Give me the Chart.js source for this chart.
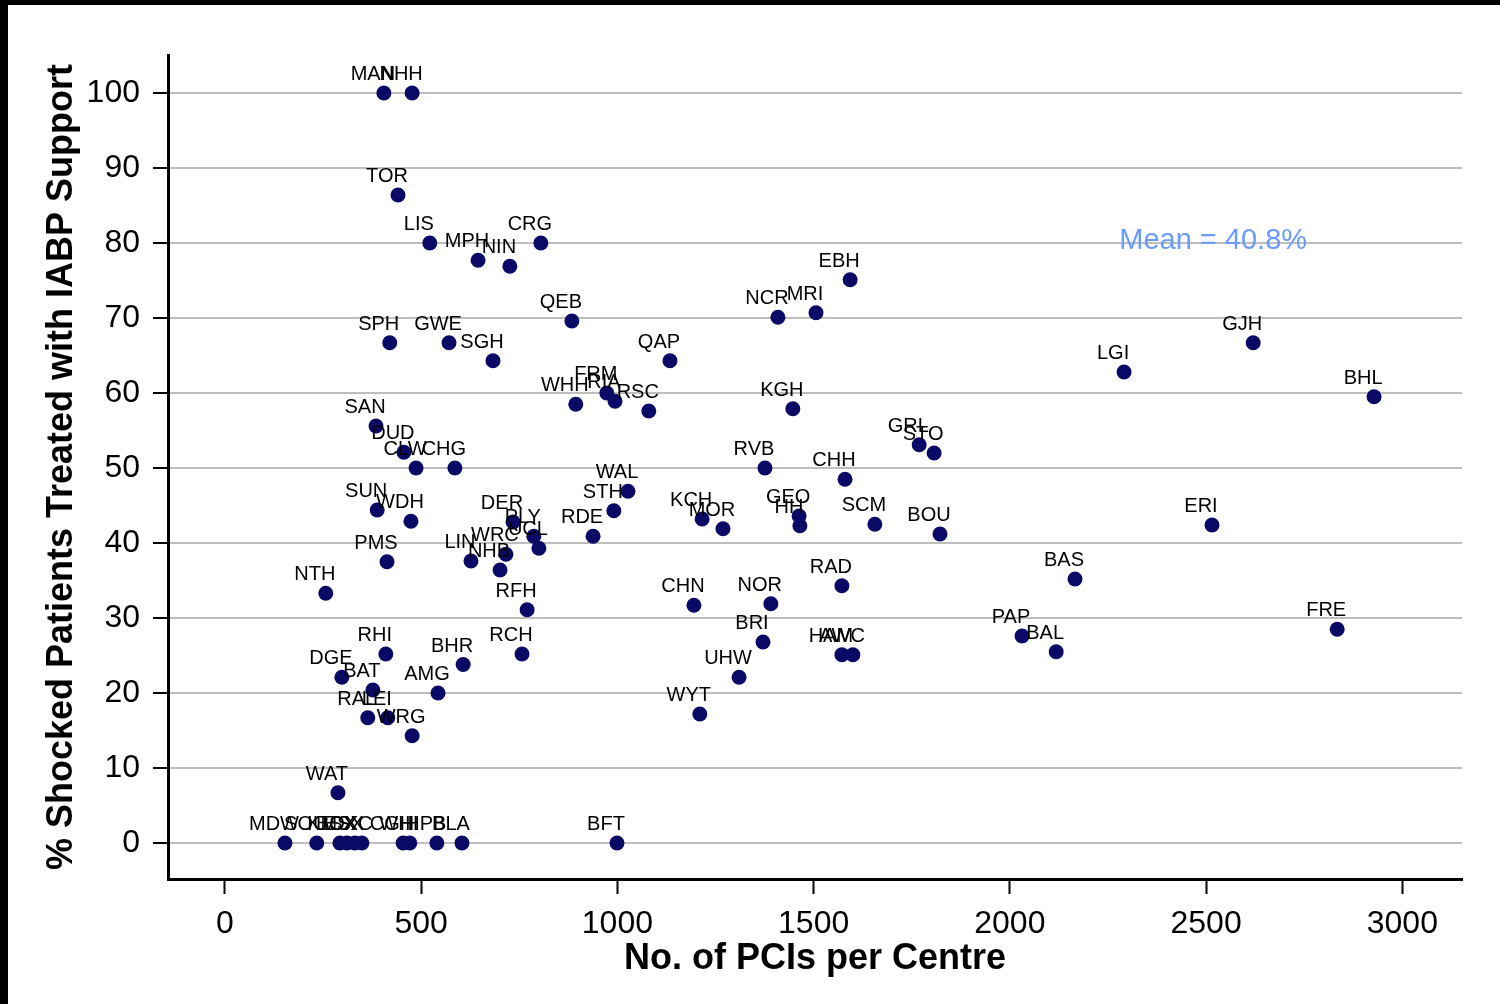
<!DOCTYPE html>
<html>
<head>
<meta charset="utf-8">
<title>IABP support vs PCI volume</title>
<script src="https://cdn.jsdelivr.net/npm/chart.js@4.4.1/dist/chart.umd.min.js"></script>
<style>
    html, body { margin: 0; padding: 0; background: #000; }
    #wrap { position: absolute; left: 8px; top: 5px; width: 1492px; height: 999px; background: #fff; }
</style>
</head>
<body>
<div id="wrap"><canvas id="iabpChart"></canvas></div>
<script>
// centre codes, PCI counts and % shocked patients with IABP support
const centres = ['MAN', 'NHH', 'TOR', 'LIS', 'MPH', 'NIN', 'CRG', 'QEB', 'EBH', 'NCR', 'MRI',
    'SPH', 'GWE', 'SGH', 'QAP', 'GJH', 'LGI', 'BHL', 'WHH', 'FRM', 'RIA', 'RSC', 'KGH',
    'SAN', 'DUD', 'CLW', 'CHG', 'GRL', 'STO', 'RVB', 'CHH', 'WAL', 'STH', 'SUN', 'WDH',
    'DER', 'PLY', 'UCL', 'WRC', 'NHB', 'LIN', 'PMS', 'RDE', 'NTH', 'RFH', 'KCH', 'MOR',
    'GEO', 'HH', 'SCM', 'BOU', 'ERI', 'BAS', 'CHN', 'NOR', 'RAD', 'BRI', 'HAM', 'AWC',
    'UHW', 'WYT', 'PAP', 'BAL', 'FRE', 'RCH', 'RHI', 'BHR', 'DGE', 'BAT', 'AMG', 'RAL',
    'LEI', 'WRG', 'WAT', 'MDW', 'SOU', 'KMS', 'BSX', 'ESX', 'OXC', 'CGH', 'WHI', 'HPB',
    'BLA', 'BFT'];

const pcis = [405, 477, 441, 522, 645, 726, 805, 884, 1593, 1409, 1506,
    420, 571, 683, 1134, 2620, 2291, 2928, 894, 973, 994, 1080, 1447,
    385, 456, 487, 586, 1769, 1807, 1376, 1580, 1027, 991, 388, 474,
    734, 787, 800, 716, 701, 627, 413, 938, 257, 770, 1216, 1269,
    1463, 1465, 1656, 1822, 2515, 2166, 1195, 1391, 1572, 1371, 1572, 1600,
    1310, 1210, 2031, 2118, 2834, 757, 410, 607, 298, 377, 543, 364,
    415, 477, 288, 153, 234, 293, 311, 331, 349, 454, 471, 540,
    604, 999];

const iabpPct = [100, 100, 86.4, 80, 77.7, 76.9, 80, 69.6, 75.1, 70.1, 70.7,
    66.7, 66.7, 64.3, 64.3, 66.7, 62.8, 59.5, 58.5, 60, 58.9, 57.6, 57.9,
    55.6, 52.1, 50, 50, 53.1, 52, 50, 48.5, 46.9, 44.3, 44.4, 42.9,
    42.8, 40.9, 39.3, 38.5, 36.4, 37.6, 37.5, 40.9, 33.3, 31.1, 43.2, 41.9,
    43.6, 42.3, 42.5, 41.2, 42.4, 35.2, 31.7, 31.9, 34.3, 26.8, 25.1, 25.1,
    22.1, 17.2, 27.6, 25.5, 28.5, 25.2, 25.2, 23.8, 22.1, 20.4, 20, 16.7,
    16.7, 14.3, 6.7, 0, 0, 0, 0, 0, 0, 0, 0, 0,
    0, 0];

const xTicks = [0, 500, 1000, 1500, 2000, 2500, 3000];
const yTicks = [0, 10, 20, 30, 40, 50, 60, 70, 80, 90, 100];

const meanText = 'Mean = 40.8%';
const meanAt = { x: 2518, y: 80.3 };

Chart.defaults.font.family = '"Liberation Sans", Arial, sans-serif';
Chart.defaults.color = '#000';

// centre codes above each dot + the mean note
const pointLabels = {
    id: 'pointLabels',
    afterDatasetsDraw(chart) {
        const ctx = chart.ctx;
        const meta = chart.getDatasetMeta(0);
        ctx.save();
        ctx.font = '20px "Liberation Sans", Arial, sans-serif';
        ctx.fillStyle = '#000';
        ctx.textAlign = 'center';
        ctx.textBaseline = 'alphabetic';
        meta.data.forEach((pt, i) => {
            ctx.fillText(centres[i], pt.x - 11, pt.y - 13);
        });

        ctx.font = '29px "Liberation Sans", Arial, sans-serif';
        ctx.fillStyle = '#6a9cff';
        ctx.textBaseline = 'middle';
        ctx.fillText(meanText, chart.scales.x.getPixelForValue(meanAt.x), chart.scales.y.getPixelForValue(meanAt.y));
        ctx.restore();
    }
};

const ctx = document.getElementById('iabpChart').getContext('2d');
const iabpChart = new Chart(ctx, {
    type: 'scatter',
    data: {
        datasets: [{
            data: pcis.map((v, i) => ({ x: v, y: iabpPct[i] })),
            backgroundColor: '#0a0a66',
            borderWidth: 0,
            pointRadius: 7.5,
            pointHoverRadius: 7.5
        }]
    },
    options: {
        responsive: true,
        maintainAspectRatio: false,
        animation: false,
        layout: { padding: { left: 0, right: 38, top: 50, bottom: 0 } },
        plugins: {
            legend: { display: false },
            tooltip: { enabled: false }
        },
        scales: {
            x: {
                type: 'linear',
                min: -145,
                max: 3152,
                afterBuildTicks: axis => { axis.ticks = xTicks.map(v => ({ value: v })); },
                afterFit: axis => { axis.height = 125; },
                grid: {
                    drawOnChartArea: false,
                    drawTicks: true,
                    tickLength: 15,
                    tickWidth: 2,
                    tickColor: '#000'
                },
                border: { display: true, color: '#000', width: 3 },
                ticks: {
                    font: { size: 32 },
                    color: '#000',
                    padding: 11,
                    maxRotation: 0,
                    callback: value => String(value)
                },
                title: {
                    display: true,
                    text: 'No. of PCIs per Centre',
                    font: { size: 36, weight: 'bold' },
                    color: '#000',
                    padding: { top: 0, bottom: 23 }
                }
            },
            y: {
                type: 'linear',
                min: -4.8,
                max: 105.07,
                afterBuildTicks: axis => { axis.ticks = yTicks.map(v => ({ value: v })); },
                afterFit: axis => { axis.width = 160; },
                grid: {
                    color: '#bebebe',
                    lineWidth: 2,
                    drawTicks: true,
                    tickLength: 15,
                    tickWidth: 2,
                    tickColor: '#000'
                },
                border: { display: true, color: '#000', width: 3 },
                ticks: {
                    font: { size: 32 },
                    color: '#000',
                    padding: 13
                },
                title: {
                    display: true,
                    text: '% Shocked Patients Treated with IABP Support',
                    font: { size: 36, weight: 'bold' },
                    color: '#000',
                    padding: { top: 32, bottom: 0 }
                }
            }
        }
    },
    plugins: [pointLabels]
});
</script>
</body>
</html>
